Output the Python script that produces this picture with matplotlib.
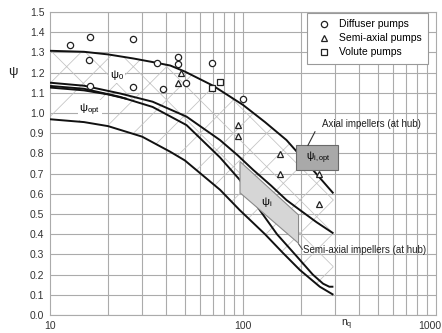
import numpy as np
import matplotlib
matplotlib.use('Agg')
import matplotlib.pyplot as plt
from matplotlib.patches import Polygon, Rectangle
from matplotlib.lines import Line2D
from matplotlib.transforms import ScaledTranslation

plt.rcParams['font.family'] = ['Liberation Sans', 'DejaVu Sans']
plt.rcParams['mathtext.fontset'] = 'custom'
plt.rcParams['mathtext.rm'] = 'Liberation Sans'
plt.rcParams['mathtext.it'] = 'Liberation Sans'
plt.rcParams['hatch.linewidth'] = 0.55

# ---- data ----
# psi_0 upper boundary
a_nq = [10, 15, 20, 27, 35, 42, 50, 70, 100, 130, 168, 220, 294]
a_psi = [1.308, 1.303, 1.29, 1.27, 1.25, 1.235, 1.205, 1.135, 1.04, 0.955, 0.866, 0.74, 0.602]
# psi_0 lower boundary
b1_nq = [10, 15, 23, 34, 51, 76, 94, 113, 140, 168, 197, 240, 294]
b1_psi = [1.150, 1.135, 1.097, 1.056, 0.982, 0.866, 0.79, 0.718, 0.64, 0.569, 0.52, 0.46, 0.404]
# psi_opt upper boundary
b2_nq = [10, 15, 23, 34, 51, 76, 96, 122, 150, 190, 230, 260, 280, 294]
b2_psi = [1.134, 1.12, 1.08, 1.03, 0.94, 0.78, 0.67, 0.52, 0.40, 0.29, 0.20, 0.155, 0.14, 0.14]
# extra short line at left
b3_nq = [10, 15, 20, 25]
b3_psi = [1.126, 1.112, 1.092, 1.070]
# psi_opt lower boundary
c_nq = [10, 15, 20, 30, 42, 50, 76, 96, 130, 160, 197, 250, 294]
c_psi = [0.969, 0.955, 0.935, 0.883, 0.808, 0.765, 0.62, 0.52, 0.40, 0.31, 0.223, 0.14, 0.10]

# psi_i region (semi-axial impellers at hub)
psii_nq = [96.5, 194, 194, 96.5]
psii_psi = [0.76, 0.495, 0.355, 0.605]
# psi_i,opt box (axial impellers at hub)
psiiopt_nq = [188, 312]
psiiopt_psi = [0.72, 0.84]

diff_nq = [12.7, 16.1, 16.0, 16.1, 27, 27, 36, 38.5, 46.3, 46.3, 50.4, 69.4, 99.5]
diff_psi = [1.337, 1.378, 1.262, 1.134, 1.365, 1.127, 1.249, 1.117, 1.275, 1.243, 1.15, 1.248, 1.071]
semi_nq = [47.7, 45.9, 94.6, 94, 155, 155, 248, 248]
semi_psi = [1.20, 1.15, 0.943, 0.886, 0.797, 0.70, 0.697, 0.55]
vol_nq = [69.3, 76]
vol_psi = [1.123, 1.153]

x_ticks = [10, 100, 1000]
x_ticklabels = ['10', '100', '1000']
y_ticks = [round(0.1 * i, 1) for i in range(16)]

# ---- figure ----
fig = plt.figure(figsize=(4.42, 3.33), dpi=100)
ax = fig.add_axes([50 / 442, 18 / 333, 386 / 442, 303 / 333])
ax.set_xscale('log')
ax.set_xlim(10, 1000)
ax.set_ylim(0, 1.5)

gc = '#ababab'
for v in list(range(20, 100, 10)) + list(range(100, 1000, 100)):
    ax.axvline(v, color=gc, lw=0.8, zorder=0)
for v in y_ticks:
    ax.axhline(v, color=gc, lw=0.8, zorder=0)
for s in ax.spines.values():
    s.set_color(gc)
    s.set_linewidth(0.8)

ax.set_xticks(x_ticks)
ax.set_xticklabels(x_ticklabels)
ax.xaxis.set_minor_locator(matplotlib.ticker.NullLocator())
ax.set_yticks(y_ticks)
ax.set_yticklabels([f'{v:.1f}' for v in y_ticks])
ax.tick_params(length=0, labelsize=7.5, colors='#333333', pad=4)
lab = ax.get_xticklabels()[-1]
lab.set_horizontalalignment('right')
lab.set_transform(lab.get_transform() + ScaledTranslation(5 / 100, 0, fig.dpi_scale_trans))

hc = '#c2c2c2'
pts0 = np.column_stack([np.r_[a_nq, b2_nq[::-1]], np.r_[a_psi, b2_psi[::-1]]])
ax.add_patch(Polygon(pts0, closed=True, facecolor='none', edgecolor=hc, hatch='x', lw=0, zorder=1))
pts1 = np.column_stack([np.r_[b2_nq, c_nq[::-1]], np.r_[b2_psi, c_psi[::-1]]])
ax.add_patch(Polygon(pts1, closed=True, facecolor='none', edgecolor=hc, hatch='/', lw=0, zorder=1))

for xs, ys in [(a_nq, a_psi), (b1_nq, b1_psi), (b2_nq, b2_psi), (b3_nq, b3_psi), (c_nq, c_psi)]:
    ax.plot(xs, ys, color='#111111', lw=1.4, zorder=3, solid_capstyle='butt')

ax.add_patch(Polygon(np.column_stack([psii_nq, psii_psi]), closed=True,
                     facecolor='#d6d6d6', edgecolor='#8a8a8a', lw=0.8, zorder=4))
ax.add_patch(Rectangle((psiiopt_nq[0], psiiopt_psi[0]), psiiopt_nq[1] - psiiopt_nq[0],
                       psiiopt_psi[1] - psiiopt_psi[0], facecolor='#a9a9a9',
                       edgecolor='#6a6a6a', lw=0.8, zorder=4))

mk = dict(mfc='white', mec='#222222', mew=0.9, ls='none', zorder=5)
ax.plot(diff_nq, diff_psi, marker='o', ms=4.5, **mk)
ax.plot(semi_nq, semi_psi, marker='^', ms=4.8, **mk)
ax.plot(vol_nq, vol_psi, marker='s', ms=4.3, **mk)

bb = dict(facecolor='white', edgecolor='none', pad=1.0)
ax.text(22.2, 1.188, r'$\mathregular{\psi_0}$', fontsize=8, ha='center', va='center', bbox=bb, zorder=6)
ax.text(16.1, 1.015, r'$\mathregular{\psi_{opt}}$', fontsize=8, ha='center', va='center', bbox=bb, zorder=6)
ax.text(132, 0.561, r'$\mathregular{\psi_i}$', fontsize=8, ha='center', va='center', zorder=6)
ax.text(245, 0.78, r'$\mathregular{\psi_{i,opt}}$', fontsize=7.5, ha='center', va='center', zorder=6)

ax.plot([217, 236], [0.84, 0.907], color='#333333', lw=0.8, zorder=6)
ax.text(258, 0.946, 'Axial impellers (at hub)', fontsize=7, ha='left', va='center',
        color='#222222', zorder=6)
ax.plot([194, 203], [0.352, 0.325], color='#555555', lw=0.8, zorder=6)
ax.text(205, 0.322, 'Semi-axial impellers (at hub)', fontsize=7, ha='left', va='center',
        color='#222222', zorder=6)

handles = [Line2D([], [], marker='o', ms=4.5, mfc='white', mec='#222222', mew=0.9, ls='none'),
           Line2D([], [], marker='^', ms=4.8, mfc='white', mec='#222222', mew=0.9, ls='none'),
           Line2D([], [], marker='s', ms=4.3, mfc='white', mec='#222222', mew=0.9, ls='none')]
leg = ax.legend(handles, ['Diffuser pumps', 'Semi-axial pumps', 'Volute pumps'],
                loc='upper right', bbox_to_anchor=(0.979, 0.997), fontsize=7.5,
                fancybox=False, framealpha=1, edgecolor='#999999', handlelength=2.2,
                handletextpad=0.3, borderpad=0.6, borderaxespad=0.0, labelspacing=0.4)
leg.get_frame().set_linewidth(0.8)
leg.set_zorder(7)

fig.text(13 / 442, 1 - 72 / 333, r'$\mathregular{\psi}$', fontsize=9.5, ha='center', va='center', color='#222222')
fig.text(347 / 442, 1 - 325 / 333, r'$\mathregular{n_q}$', fontsize=7.5, ha='center', va='center', color='#222222')

fig.savefig('out.png', dpi=100)
